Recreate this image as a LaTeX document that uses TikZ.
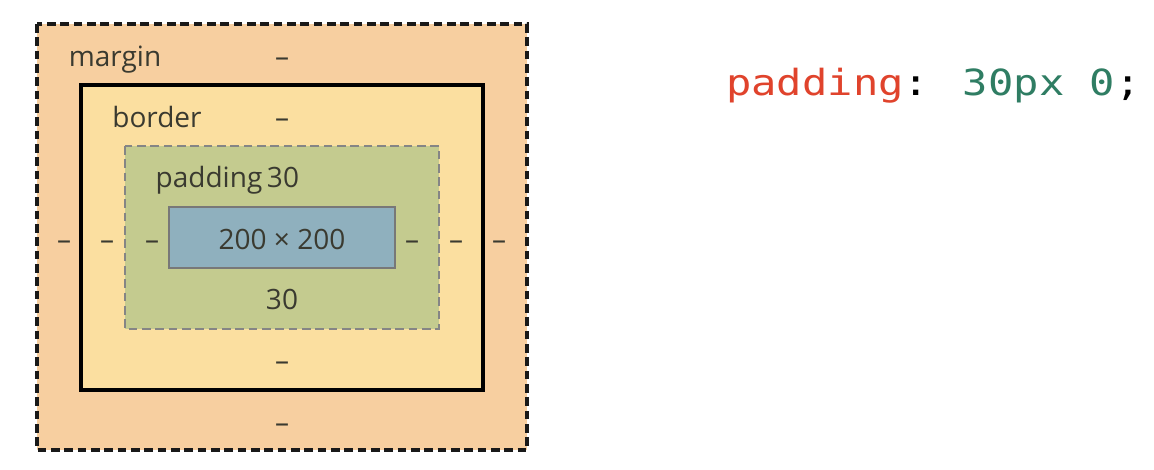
\documentclass[tikz,border=0pt]{standalone}
\usepackage{fontspec}
\usepackage{graphicx}
\setmainfont{Open Sans}
\newfontfamily\codefont{DejaVu Sans Mono}
\definecolor{marginc}{HTML}{F7CFA0}
\definecolor{borderc}{HTML}{FBDFA0}
\definecolor{paddingc}{HTML}{C4CB8F}
\definecolor{contentc}{HTML}{8FB0BE}
\definecolor{txt}{HTML}{3A3A30}
\definecolor{codered}{HTML}{E0432C}
\definecolor{codegreen}{HTML}{2F7D63}
\definecolor{padline}{HTML}{858585}
\tikzset{
  lbl/.style={anchor=base, text=txt, font=\fontsize{21}{25}\selectfont, inner sep=0pt},
  marginbox/.style={fill=marginc, draw=black!90, line width=2.3pt, dash pattern=on 6.5pt off 3.5pt},
  borderbox/.style={fill=borderc, draw=black, line width=2.3pt},
  paddingbox/.style={fill=paddingc, draw=padline, line width=1.8pt, dash pattern=on 6.5pt off 3.5pt},
  contentbox/.style={fill=contentc, draw=padline!90!black, line width=1.8pt}
}
\begin{document}
\begin{tikzpicture}[x=0.75pt,y=-0.75pt]
\useasboundingbox (0,0) rectangle (1154,470);
\fill[white] (0,0) rectangle (1154,470);
% boxes
\draw[marginbox] (37,24) rectangle (527,450);
\draw[borderbox] (81,85) rectangle (483,390);
\draw[paddingbox] (125,146) rectangle (439,329);
\draw[contentbox] (169,207) rectangle (395,268);
% labels
\node[lbl] (mlab) at (115,67) {margin};
\node[lbl] (mtop) at (282,67) {–};
\node[lbl] (blab) at (157,128) {border};
\node[lbl] (btop) at (282,128) {–};
\node[lbl] (plab) at (209,188) {padding};
\node[lbl] (ptop) at (283,188) {30};
\node[lbl] (size) at (282,250) {200 × 200};
\node[lbl] (pbot) at (282,310) {30};
\node[lbl] (bbot) at (282,371) {–};
\node[lbl] (mbot) at (282,432) {–};
\node[lbl] (mleft) at (64,250) {–};
\node[lbl] (bleft) at (107,250) {–};
\node[lbl] (pleft) at (152,250) {–};
\node[lbl] (pright) at (412,250) {–};
\node[lbl] (bright) at (456,250) {–};
\node[lbl] (mright) at (499,250) {–};
% code
\node[anchor=base west, inner sep=0pt] (code) at (726,96)
  {\scalebox{1.17}[1]{\codefont\fontsize{27}{32}\selectfont\textcolor{codered}{padding}\textcolor{black}{:} \textcolor{codegreen}{30px 0}\textcolor{black}{;}}};
\end{tikzpicture}
\end{document}
